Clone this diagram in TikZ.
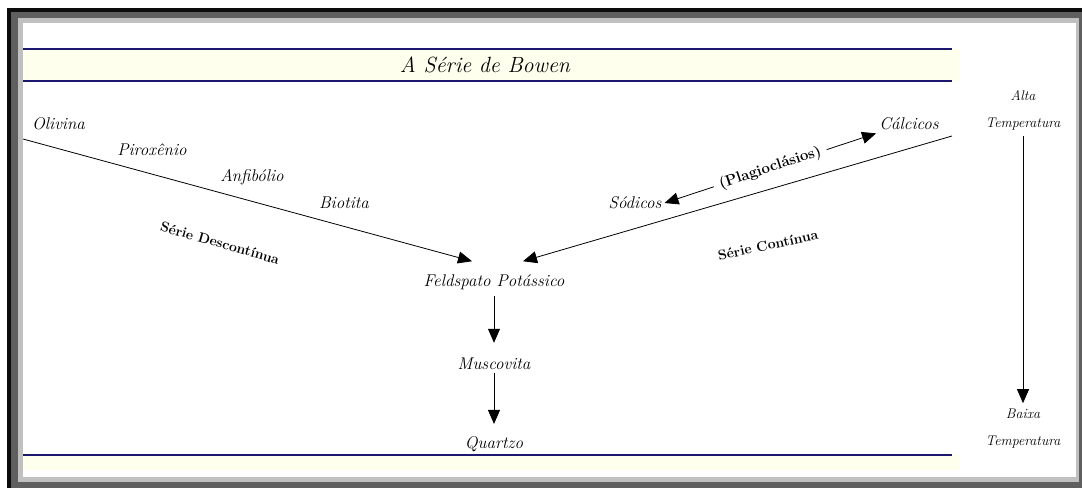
\documentclass[tikz,border=0pt]{standalone}
\usepackage{tikz}
\usetikzlibrary{positioning,calc,arrows.meta}
\definecolor{frameblack}{RGB}{12,12,12}
\definecolor{framedark}{RGB}{95,95,95}
\definecolor{framelight}{RGB}{192,192,192}
\definecolor{bandnavy}{RGB}{28,24,112}
\definecolor{bandivory}{RGB}{255,255,238}
\tikzset{mineral/.style={font=\fontsize{17}{19}\selectfont\itshape, inner sep=3pt}}
\tikzset{serie/.style={font=\fontsize{14}{16}\selectfont\bfseries, inner sep=2pt}}
\tikzset{tempo/.style={font=\fontsize{14}{27}\selectfont\itshape, align=center, inner sep=3pt}}
\tikzset{titulo/.style={font=\fontsize{22}{24}\selectfont\itshape}}
\tikzset{faixa/.style={draw=bandnavy, line width=2.5pt}}
\tikzset{arr1/.style={draw, -{Triangle[length=14pt,width=12pt]}, line width=0.8pt}}
\tikzset{arr2/.style={draw, {Triangle[length=14pt,width=12pt]}-{Triangle[length=14pt,width=12pt]}, line width=0.8pt}}

\begin{document}
\begin{tikzpicture}[x=1pt, y=-1pt]
	\useasboundingbox (0,0) rectangle (1082,488);
	% moldura
	\fill[white] (0,0) rectangle (1082,488);
	\fill[frameblack] (7,8) rectangle (1082,488);
	\fill[framedark] (11,12) rectangle (1082,488);
	\fill[framelight] (18,18) rectangle (1079,482);
	\fill[white] (23,23) rectangle (1076,477);
	% faixas do titulo e do rodape
	\fill[bandivory] (23,49) rectangle (960,81);
	\fill[bandivory] (23,455) rectangle (960,470);
	\draw[faixa] (23,49) -- (952,49);
	\draw[faixa] (23,81) -- (952,81);
	\draw[faixa] (23,455) -- (952,455);
	\node[titulo] (ttl) at (485,65) {A Série de Bowen};

	\node[mineral, anchor=west] (ol) at (29,124) {Olivina};
	\node[mineral] (px) at (152,150) {Piroxênio};
	\node[mineral] (af) at (252,177) {Anfibólio};
	\node[mineral] (bt) at (344,203) {Biotita};
	\node[mineral] (fk) at (494,282) {Feldspato Potássico};
	\node[mineral, below=62pt of fk] (mu) {Muscovita};
	\node[mineral, below=60pt of mu] (qz) {Quartzo};
	\node[mineral] (so) at (635,203) {Sódicos};
	\node[mineral] (ca) at (909,124) {Cálcicos};
	\node[serie, rotate=-16] (sd) at (220,243) {Série Descontínua};
	\node[serie, rotate=12] (sc) at (768,245) {Série Contínua};

	\coordinate (ol0) at (23,139);
	\coordinate (ca0) at (952,136);
	\draw[arr1] (ol0) -- ($(fk.north)+(-22,-10)$);
	\draw[arr1] (ca0) -- ($(fk.north)+(29,-10)$);
	\draw[arr2] (so.east) -- node[serie, font=\fontsize{15}{17}\selectfont\bfseries, sloped, fill=white, inner sep=6pt] {(Plagioclásios)} (ca.south west);
	\draw[arr1, shorten <=3pt, shorten >=12pt] (fk) -- (mu);
	\draw[arr1, shorten <=0pt, shorten >=9pt] (mu) -- (qz);

	% temperatura
	\node[tempo] (hi) at (1023,110) {Alta\\Temperatura};
	\node[tempo] (lo) at (1023,429) {Baixa\\Temperatura};
	\draw[arr1, shorten <=3pt, shorten >=3pt] (hi) -- (lo);
\end{tikzpicture}
\end{document}
